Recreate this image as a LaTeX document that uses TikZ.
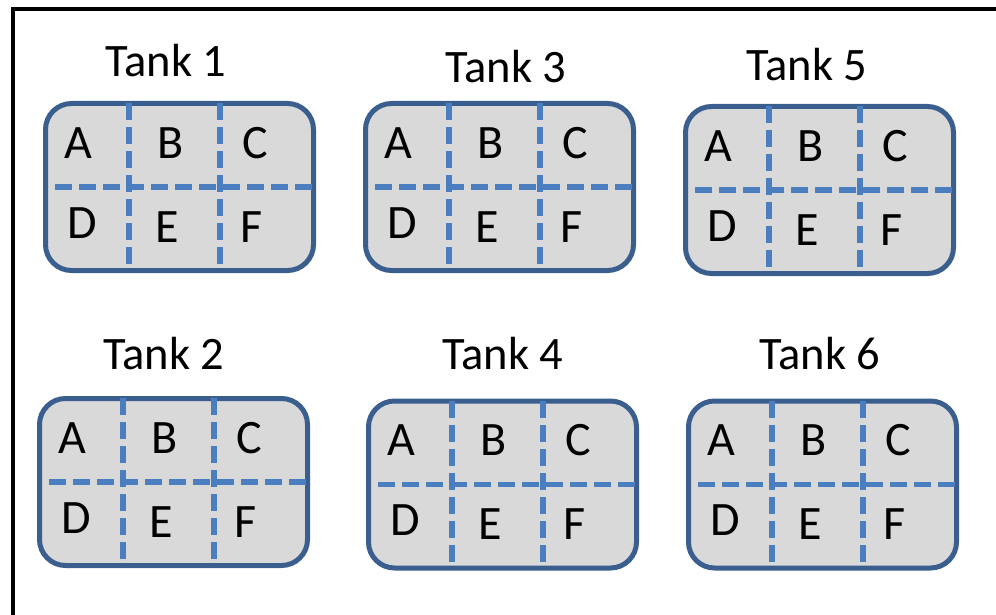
\documentclass[tikz,border=0pt]{standalone}
\usepackage{fontspec}
\setmainfont{Carlito}
\definecolor{tankedge}{HTML}{3A5F8E}
\definecolor{tankfill}{HTML}{D9D9D9}
\definecolor{divider}{HTML}{4A7EBF}
\begin{document}
\begin{tikzpicture}[x=1pt,y=-1pt,
  tankbox/.style={draw=tankedge, fill=tankfill, line width=5pt, rounded corners=26pt,
    minimum width=268pt, minimum height=167pt, inner sep=0pt},
  divline/.style={draw=divider, line width=5.5pt, dash pattern=on 17pt off 7pt},
  tanktitle/.style={font=\fontsize{46.5}{52}\selectfont, anchor=base, inner sep=0pt},
  cell/.style={font=\fontsize{48}{54}\selectfont, anchor=base, inner sep=0pt},
  frame/.style={draw=black, line width=4pt}]
\useasboundingbox (0,0) rectangle (996,615);
\coordinate (fbl) at (13,615);
\coordinate (ftl) at (13,9);
\coordinate (ftr) at (996,9);
\draw[frame] (fbl) -- (ftl) -- (ftr);
\foreach \n/\bx/\by/\tx/\ty in {1/43/101/166/77, 3/363/101/506/83, 5/683/104/807/81,
    2/37/396/164/369, 4/366/398.5/503/369, 6/686/398.5/820/369} {
  \node[tanktitle] (title\n) at (\tx,\ty) {Tank \n};
  \begin{scope}[shift={(\bx,\by)}]
    \node[tankbox] (tank\n) at (136.5,86) {};
    \coordinate (vat\n) at (86,2);
    \coordinate (vab\n) at (86,170);
    \coordinate (vbt\n) at (177,2);
    \coordinate (vbb\n) at (177,170);
    \coordinate (hl\n) at (12,86);
    \coordinate (hr\n) at (270,86);
    \draw[divline] (hl\n) -- (hr\n);
    \draw[divline] (vat\n) -- (vab\n);
    \draw[divline] (vbt\n) -- (vbb\n);
    \node[cell] (A\n) at (35,57) {A};
    \node[cell] (B\n) at (128,57) {B};
    \node[cell] (C\n) at (212,57) {C};
    \node[cell] (D\n) at (39,137) {D};
    \node[cell] (E\n) at (124,141) {E};
    \node[cell] (F\n) at (209,141) {F};
  \end{scope}
}
\end{tikzpicture}
\end{document}
